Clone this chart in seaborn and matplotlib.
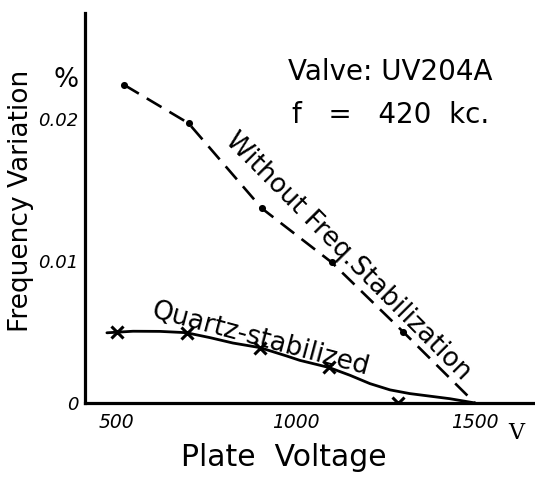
import numpy as np
import pandas as pd
import matplotlib
matplotlib.use("Agg")
import matplotlib.pyplot as plt
import seaborn as sns

# Frequency variation (%) of a UV204A valve oscillator at 420 kc versus plate voltage
# Without frequency stabilization: measured points (dashed line)
without_v = [520, 700, 905, 1100, 1300, 1500]
without_dev = [0.0224, 0.0197, 0.0137, 0.0099, 0.0050, 0.0]

# Quartz-stabilized: measured points (x markers)
quartz_v = [500, 695, 900, 1092, 1285]
quartz_dev = [0.0050, 0.0049, 0.0039, 0.0025, 0.0]

# Quartz-stabilized: drawn smooth curve
quartz_curve_v = [472, 545, 620, 693, 760, 824, 899, 975, 1011, 1092, 1151,
                  1207, 1263, 1318, 1374, 1430, 1500]
quartz_curve_dev = [0.00494, 0.00505, 0.00504, 0.00495, 0.00460, 0.00422,
                    0.00390, 0.00330, 0.00300, 0.00250, 0.00195, 0.00136,
                    0.00092, 0.00066, 0.00048, 0.00030, 0.0]

x_major = [500, 1000, 1500]
x_major_labels = ["500", "1000", "1500"]
x_minor = [600, 700, 800, 900, 1100, 1200, 1300, 1400]
y_major = [0, 0.01, 0.02]
y_major_labels = ["0", "0.01", "0.02"]
y_minor = [0.005, 0.015, 0.025]

sns.set_style("white")
plt.rcParams["font.family"] = ["DejaVu Sans"]
plt.rcParams["text.color"] = "black"
plt.rcParams["axes.labelcolor"] = "black"
plt.rcParams["xtick.color"] = "black"
plt.rcParams["ytick.color"] = "black"

fig = plt.figure(figsize=(5.35, 4.82), dpi=100)
ax = fig.add_axes([0.159, 0.164, 0.841, 0.809])

without_df = pd.DataFrame({"v": without_v, "dev": without_dev})
quartz_df = pd.DataFrame({"v": quartz_v, "dev": quartz_dev})
curve_df = pd.DataFrame({"v": quartz_curve_v, "dev": quartz_curve_dev})

sns.lineplot(data=without_df, x="v", y="dev", ax=ax, color="black", lw=1.9,
             linestyle=(0, (6.5, 3.5)), sort=False)
sns.scatterplot(data=without_df.iloc[:-1], x="v", y="dev", ax=ax, color="black",
                s=26, marker="o", edgecolor="black", linewidth=0)

sns.lineplot(data=curve_df, x="v", y="dev", ax=ax, color="black", lw=2.0, sort=False)
sns.scatterplot(data=quartz_df, x="v", y="dev", ax=ax, color="black",
                s=75, marker="x", linewidth=2.2)

ax.set_xlim(411, 1668)
ax.set_ylim(0, 0.02746)

for side in ("top", "right"):
    ax.spines[side].set_visible(False)
for side in ("left", "bottom"):
    ax.spines[side].set_linewidth(2.3)
    ax.spines[side].set_color("black")

ax.set_xticks(x_major)
ax.set_xticklabels(x_major_labels)
ax.set_xticks(x_minor, minor=True)
ax.set_yticks(y_major)
ax.set_yticklabels(y_major_labels)
ax.set_yticks(y_minor, minor=True)
ax.tick_params(axis="both", which="both", direction="in", length=7, width=1.6,
               color="black")
ax.tick_params(axis="x", which="major", pad=7, labelsize=13.5)
ax.tick_params(axis="y", which="major", pad=5, labelsize=13)
for lab in ax.get_xticklabels() + ax.get_yticklabels():
    lab.set_fontstyle("italic")

ax.set_xlabel("")
ax.set_ylabel("")

# unit marks and axis titles
fig.text(66 / 535, 1 - 80 / 482, "%", fontsize=19, ha="center", va="center")
ax.text(1617, -0.00215, "V", fontsize=16, ha="center", va="center",
        family="DejaVu Serif")
fig.text(284 / 535, 1 - 458 / 482, "Plate  Voltage", fontsize=21.5,
         ha="center", va="center")
fig.text(21 / 535, 1 - 201 / 482, "Frequency Variation", fontsize=19,
         rotation=90, ha="center", va="center")

# valve data
fig.text(288 / 535, 1 - 72 / 482, "Valve: UV204A", fontsize=20,
         ha="left", va="center")
fig.text(292 / 535, 1 - 115 / 482, "f   =   420  kc.", fontsize=20,
         ha="left", va="center")

# curve annotations
fig.text(348 / 535, 1 - 256 / 482, "Without Freq.Stabilization", fontsize=18.8,
         rotation=-45.2, rotation_mode="anchor", ha="center", va="center")
fig.text(260 / 535, 1 - 339 / 482, "Quartz-stabilized", fontsize=19,
         rotation=-15, rotation_mode="anchor", ha="center", va="center")

fig.savefig("out.png", dpi=100)
